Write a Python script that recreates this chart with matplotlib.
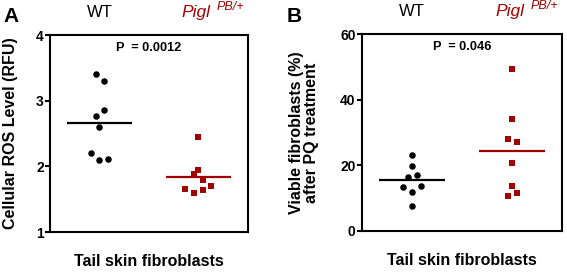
import matplotlib
matplotlib.use("Agg")
import matplotlib.pyplot as plt
import numpy as np

plt.rcParams["font.family"] = ["Liberation Sans", "DejaVu Sans"]

RED = "#a00000"

groups = ["WT", "Pigl"]

# panel A: cellular ROS level (RFU)
ros_wt = [3.40, 3.30, 2.86, 2.76, 2.60, 2.20, 2.09, 2.11]
ros_wt_dx = [-0.04, 0.047, 0.047, -0.04, 0.0, -0.084, 0.0, 0.088]
ros_pigl = [2.45, 1.95, 1.89, 1.80, 1.70, 1.65, 1.60, 1.64]
ros_pigl_dx = [0.0, 0.0, -0.047, 0.044, 0.128, -0.135, -0.047, 0.044]

# panel B: viable fibroblasts after PQ (%)
via_wt = [23.0, 19.9, 16.4, 17.0, 13.5, 13.8, 11.9, 7.7]
via_wt_dx = [0.0, 0.0, -0.045, 0.045, -0.09, 0.09, 0.0, 0.0]
via_pigl = [49.4, 34.2, 28.1, 27.0, 20.6, 13.8, 11.6, 10.5]
via_pigl_dx = [0.0, 0.0, -0.045, 0.045, 0.0, 0.0, 0.045, -0.045]

fig = plt.figure(figsize=(5.67, 2.72), dpi=100)


def panel(rect, wt, wt_dx, pg, pg_dx, ylim, yticks, ylabel, ylab_x, ptext, letter, letter_x):
    ax = fig.add_axes(rect)
    ax.scatter(np.array(wt_dx) + 0, wt, s=22, marker="o", color="black", zorder=3, linewidths=0)
    ax.scatter(np.array(pg_dx) + 1, pg, s=20, marker="s", color=RED, zorder=3, linewidths=0)
    ax.hlines(np.mean(wt), -0.33, 0.33, color="black", lw=1.6)
    ax.hlines(np.mean(pg), 0.67, 1.33, color=RED, lw=1.6)
    ax.set_xlim(-0.5, 1.5)
    ax.set_ylim(*ylim)
    ax.set_yticks(yticks)
    ax.set_xticks([])
    for s in ax.spines.values():
        s.set_linewidth(1.5)
    ax.tick_params(axis="y", width=1.5, length=3.5, labelsize=10, pad=1)
    for lb in ax.get_yticklabels():
        lb.set_fontweight("bold")
    ax.set_ylabel(ylabel, fontsize=11.5, fontweight="bold", linespacing=1.0)
    ax.yaxis.set_label_coords(ylab_x, 0.5)
    ax.set_xlabel("Tail skin fibroblasts", fontsize=11.5, fontweight="bold")
    ax.xaxis.set_label_coords(0.5, -0.112)
    ax.text(0.5, 0.934, ptext, transform=ax.transAxes, ha="center", va="center",
            fontsize=9.2, fontweight="bold")
    tr = ax.get_xaxis_transform()
    ax.text(0, 1.09, "WT", transform=tr, ha="center", va="baseline", fontsize=12)
    pt = ax.text(1.12, 1.09, "Pigl", transform=tr, ha="right", va="baseline",
                 fontsize=12.5, style="italic", color=RED)
    ax.annotate("PB/+", xy=(1, 1), xycoords=pt, xytext=(4.5, -1.5), textcoords="offset points",
                ha="left", va="center", fontsize=9, style="italic", color=RED)
    fig.text(letter_x, 0.975, letter, ha="left", va="top", fontsize=15, fontweight="bold")
    return ax


panel([0.0882, 0.147, 0.349, 0.724], ros_wt, ros_wt_dx, ros_pigl, ros_pigl_dx,
      (1, 4), [1, 2, 3, 4], "Cellular ROS Level (RFU)", -0.162, "P  = 0.0012", "A", 0.006)
panel([0.6384, 0.151, 0.353, 0.724], via_wt, via_wt_dx, via_pigl, via_pigl_dx,
      (0, 60), [0, 20, 40, 60], "Viable fibroblasts (%)\nafter PQ treatment", -0.215,
      "P  = 0.046", "B", 0.505)

fig.savefig("out.png", dpi=100)
